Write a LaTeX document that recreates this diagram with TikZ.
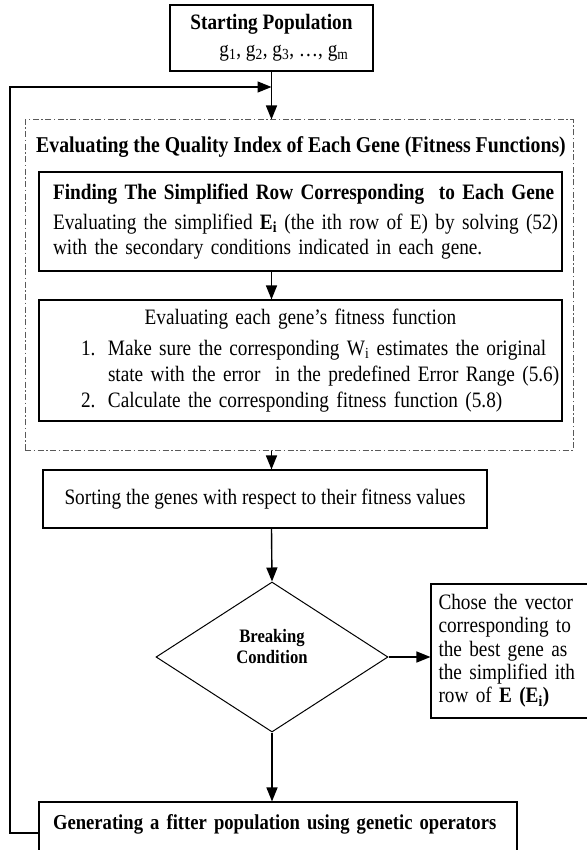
\documentclass[tikz,border=0pt]{standalone}
\usepackage{fontspec}
\setmainfont[FakeStretch=0.875]{Liberation Serif}
\usetikzlibrary{arrows.meta,shapes.geometric}

\newcommand{\bodysize}{\fontsize{22}{25}\selectfont}

\tikzset{
  box/.style={draw, line width=1.1pt, inner sep=0pt, font=\bodysize},
  evalbox/.style={draw=black!65, line width=1pt, dash pattern=on 6pt off 2.5pt on 1.5pt off 2.5pt},
  flow/.style={line width=1.4pt, -{Triangle[length=14pt,width=11pt]}},
}

\begin{document}
\begin{tikzpicture}[x=1pt,y=-1pt]
\useasboundingbox (0,0) rectangle (586,850);

\node[box, minimum width=203, minimum height=66, align=left, font=\fontsize{22}{27}\selectfont] (start) at (271.5,38)
  {{\bfseries Starting Population}\\\hspace*{29pt}g\textsubscript{1}, g\textsubscript{2}, g\textsubscript{3}, …, g\textsubscript{m}};

\node[evalbox, minimum width=548, minimum height=330] (eval) at (299,285) {};
\node[anchor=base west, inner sep=0pt, font=\bfseries\fontsize{22.6}{25}\selectfont] (evaltitle) at (36,153)
  {Evaluating the Quality Index of Each Gene (Fitness Functions)};

\node[box, minimum width=523, minimum height=99, text width=495, align=left] (find) at (300.5,221.5)
  {\mbox{\bfseries Finding The Simplified Row Corresponding~ to Each Gene}\\[5pt]
   \mbox{Evaluating the simplified \textbf{E\textsubscript{i}} (the ith row of E) by solving (52)}\\
   \mbox{with the secondary conditions indicated in each gene.}};

\node[box, minimum width=523, minimum height=121, text width=523, align=left, font=\fontsize{22}{26}\selectfont] (fit) at (300.5,360.5)
  {\makebox[523pt]{Evaluating each gene’s fitness function}\\[5pt]
   \hspace*{42pt}\makebox[27pt][l]{1.}\mbox{Make sure the corresponding W\textsubscript{i} estimates the original}\\
   \hspace*{69pt}\mbox{state with the error~ in the predefined Error Range (5.6)}\\
   \hspace*{42pt}\makebox[27pt][l]{2.}\mbox{Calculate the corresponding fitness function (5.8)}};

\node[box, minimum width=444, minimum height=58] (sort) at (265,499)
  {Sorting the genes with respect to their fitness values};

\node[diamond, draw, line width=1pt, minimum width=232, minimum height=150, inner sep=0pt, align=center,
  font=\bfseries\fontsize{19}{21}\selectfont, text depth=22pt] (dec) at (272,657) {Breaking\\Condition};

\node[box, minimum width=157, minimum height=134, text width=142, align=left, font=\fontsize{22}{23.3}\selectfont] (choose) at (509.5,651)
  {\makebox[142pt][s]{Chose the vector}\\
   \makebox[142pt][s]{corresponding to}\\
   \makebox[142pt][s]{the best gene as}\\
   \makebox[142pt][s]{the simplified ith}\\
   row of \textbf{E (E\textsubscript{i})}};

\node[box, minimum width=478, text width=450, align=left, inner ysep=12.5pt, text height=15pt, text depth=22pt,
  font=\bfseries\fontsize{21.3}{25}\selectfont] (gen) at (278,833)
  {\mbox{Generating a fitter population using genetic operators}};

\coordinate (loopcorner) at (10,87);
\coordinate (loopin) at (start.south |- loopcorner);

\draw[flow] (start.south) -- (start.south |- eval.north);
\draw[flow] (find.south -| start) -- (fit.north -| start);
\draw[flow] (eval.south -| start) -- (sort.north -| start);
\draw[flow] (sort.south -| start) -- (dec.north);
\draw[flow] (dec.east) -- (dec.east -| choose.west);
\draw[flow] (dec.south) -- (dec.south |- gen.north);
\draw[flow] (gen.west) -| (loopcorner) -- (loopin);
\end{tikzpicture}
\end{document}
